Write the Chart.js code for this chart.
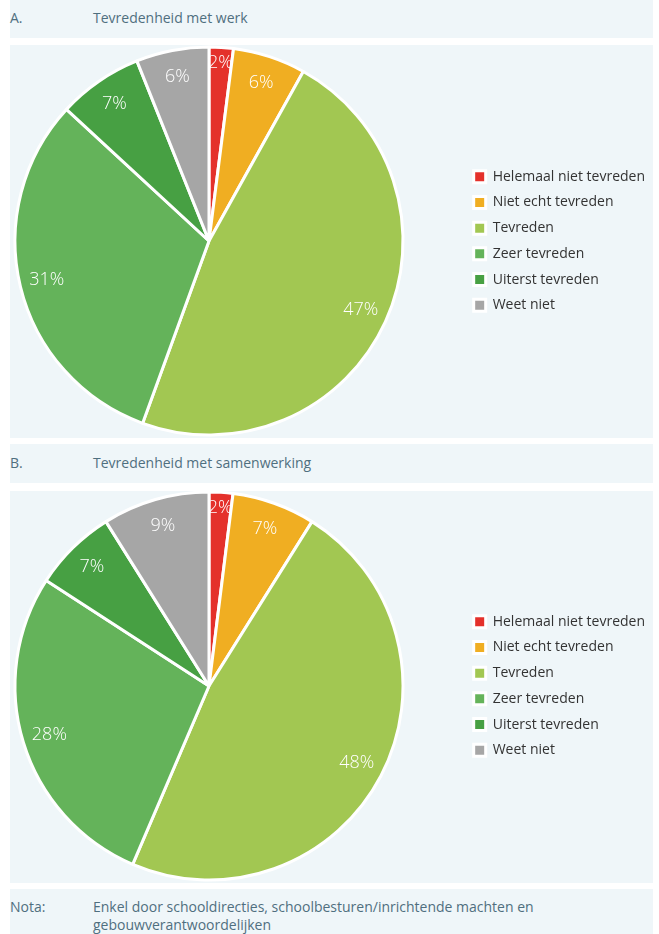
<!DOCTYPE html>
<html lang="nl">
<head>
<meta charset="utf-8">
<script src="https://cdn.jsdelivr.net/npm/chart.js@4.4.1/dist/chart.umd.min.js"></script>
<style>
  html, body { margin: 0; padding: 0; background: #ffffff; }
  body { width: 659px; height: 934px; position: relative; overflow: hidden;
         font-family: "Open Sans", "DejaVu Sans", sans-serif; }
  .panel { position: absolute; left: 10px; width: 643px; background: #eff6f9; }
  .head { color: #4f6f7f; font-size: 14px; }
  .head .tag { position: absolute; left: 0; }
  .head .txt { position: absolute; left: 83px; }
  .chartbox { position: absolute; }
  .note { color: #4f6f7f; font-size: 14px; line-height: 18px; }
</style>
</head>
<body>
  <div class="panel head" style="top:0; height:38px;">
    <span class="tag" style="top:8px;">A.</span>
    <span class="txt" style="top:8px;">Tevredenheid met werk</span>
  </div>
  <div class="panel" style="top:45px; height:393px;"></div>

  <div class="panel head" style="top:444px; height:39px;">
    <span class="tag" style="top:9px;">B.</span>
    <span class="txt" style="top:9px;">Tevredenheid met samenwerking</span>
  </div>
  <div class="panel" style="top:491px; height:392px;"></div>

  <div class="panel note" style="top:889px; height:45px;">
    <span style="position:absolute; left:0; top:9px;">Nota:</span>
    <span style="position:absolute; left:83px; top:9px; width:520px;">Enkel door schooldirecties, schoolbesturen/inrichtende machten en gebouwverantwoordelijken</span>
  </div>

  <div class="chartbox" style="left:-44px; top:44px; width:711px; height:394px;"><canvas id="chartA"></canvas></div>
  <div class="chartbox" style="left:-44px; top:489px; width:711px; height:394px;"><canvas id="chartB"></canvas></div>

<script>
// Answer categories (shared by both charts)
const categories = [
  'Helemaal niet tevreden',
  'Niet echt tevreden',
  'Tevreden',
  'Zeer tevreden',
  'Uiterst tevreden',
  'Weet niet'
];

// Percentages per category
const werkValues = [2, 6, 47, 31, 7, 6];
const samenwerkingValues = [2, 7, 48, 28, 7, 9];

const sliceColors = ['#e4312b', '#f0ae22', '#a2c752', '#64b35a', '#47a043', '#a6a6a6'];

// Writes the percentage inside each slice
const sliceLabels = {
  id: 'sliceLabels',
  afterDatasetsDraw(chart) {
    const ctx = chart.ctx;
    const meta = chart.getDatasetMeta(0);
    const values = chart.data.datasets[0].data;
    ctx.save();
    ctx.fillStyle = '#ffffff';
    ctx.font = '300 18px "Open Sans", sans-serif';
    ctx.textAlign = 'center';
    ctx.textBaseline = 'middle';
    meta.data.forEach((arc, i) => {
      const p = arc.getProps(['x', 'y', 'startAngle', 'endAngle', 'outerRadius'], true);
      const mid = (p.startAngle + p.endAngle) / 2;
      const r = p.outerRadius * (values[i] < 3 ? 0.92 : 0.86);
      ctx.fillText(values[i] + '%', p.x + Math.cos(mid) * r, p.y + Math.sin(mid) * r);
    });
    ctx.restore();
  }
};

function makePie(id, values) {
  return new Chart(document.getElementById(id), {
    type: 'pie',
    data: {
      labels: categories,
      datasets: [{
        data: values,
        backgroundColor: sliceColors,
        borderColor: '#ffffff',
        borderWidth: 3,
        radius: 194
      }]
    },
    options: {
      responsive: true,
      maintainAspectRatio: false,
      animation: false,
      layout: { padding: { left: 0, right: 12, top: 0, bottom: 0 } },
      plugins: {
        tooltip: { enabled: false },
        legend: {
          position: 'right',
          labels: {
            boxWidth: 12,
            boxHeight: 12,
            padding: 11.7,
            color: '#333333',
            font: { family: '"Open Sans", sans-serif', size: 14 }
          }
        }
      }
    },
    plugins: [sliceLabels]
  });
}

makePie('chartA', werkValues);
makePie('chartB', samenwerkingValues);
</script>
</body>
</html>
